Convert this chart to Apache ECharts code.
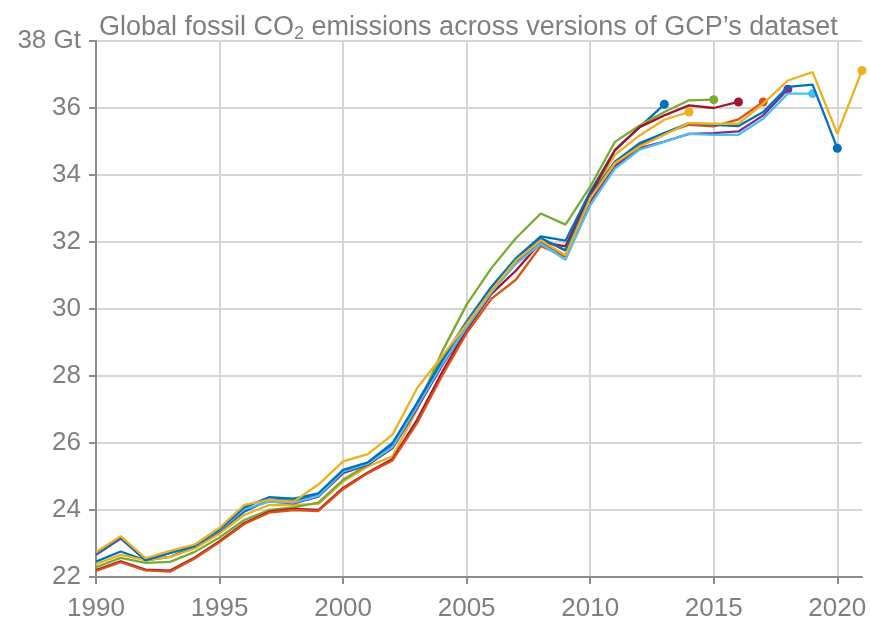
<!DOCTYPE html>
<html>
<head>
<meta charset="utf-8">
<script src="https://cdn.jsdelivr.net/npm/echarts@6/dist/echarts.min.js"></script>
<style>
html,body{margin:0;padding:0;background:#fff;}
#chart{width:870px;height:624px;}
</style>
</head>
<body>
<div id="chart"></div>
<script>
// ---- data (GtCO2) ----
var startYear = 1990;
var xTicks = [1990, 1995, 2000, 2005, 2010, 2015, 2020];
var yTicks = [22, 24, 26, 28, 30, 32, 34, 36, 38];
var versionNames = ['GCP 2014','GCP 2015','GCP 2016','GCP 2017','GCP 2018','GCP 2019','GCP 2020','GCP 2021','GCP 2022'];

var gcp2014 = [22.46,22.76,22.50,22.60,22.90,23.35,23.95,24.30,24.28,24.45,25.15,25.40,25.95,27.20,28.50,29.63,30.66,31.52,32.17,32.04,33.50,34.74,35.43,36.11];
var gcp2015 = [22.38,22.66,22.50,22.60,22.85,23.30,23.85,24.15,24.15,24.18,24.85,25.30,25.60,27.00,28.50,29.60,30.60,31.45,32.09,31.75,33.35,34.60,35.18,35.65,35.88];
var gcp2016 = [22.29,22.57,22.42,22.45,22.75,23.18,23.70,24.00,24.08,24.22,24.90,25.35,25.85,27.05,28.72,30.13,31.22,32.12,32.85,32.52,33.65,34.99,35.48,35.88,36.23,36.25];
var gcp2017 = [22.21,22.47,22.22,22.19,22.58,23.07,23.61,23.95,24.03,24.00,24.66,25.12,25.52,26.70,28.10,29.38,30.45,31.15,32.00,31.87,33.40,34.74,35.43,35.78,36.08,36.00,36.18];
var gcp2018 = [22.18,22.44,22.20,22.16,22.55,23.04,23.58,23.92,24.00,23.97,24.62,25.10,25.48,26.60,28.00,29.28,30.30,30.88,31.88,31.55,33.10,34.30,34.90,35.25,35.50,35.45,35.66,36.18];
var gcp2019 = [22.66,23.15,22.50,22.72,22.92,23.38,24.00,24.26,24.20,24.40,25.10,25.35,25.85,27.05,28.30,29.45,30.55,31.40,32.00,31.60,33.20,34.25,34.80,35.00,35.23,35.25,35.30,35.78,36.56];
var gcp2020 = [22.70,23.20,22.52,22.72,22.92,23.40,24.02,24.25,24.22,24.42,25.15,25.38,25.88,27.10,28.35,29.45,30.50,31.35,31.95,31.47,33.10,34.19,34.76,34.99,35.23,35.20,35.20,35.68,36.43,36.43];
var gcp2021 = [22.70,23.18,22.50,22.72,22.93,23.42,24.08,24.38,24.34,24.50,25.20,25.42,26.00,27.20,28.45,29.60,30.65,31.50,32.12,31.75,33.35,34.40,34.95,35.25,35.55,35.50,35.46,35.88,36.63,36.70,34.80];
var gcp2022 = [22.74,23.22,22.56,22.78,22.97,23.47,24.15,24.30,24.25,24.76,25.45,25.67,26.25,27.64,28.58,29.55,30.55,31.45,32.05,31.60,33.30,34.35,34.85,35.20,35.55,35.53,35.53,36.13,36.82,37.07,35.23,37.12];

var allSeries = [gcp2014,gcp2015,gcp2016,gcp2017,gcp2018,gcp2019,gcp2020,gcp2021,gcp2022];
var colors = ['#0072BD','#EDB120','#77AC30','#A2142F','#D95319','#7E2F8E','#4DBEEE','#0072BD','#EDB120'];

var chart = echarts.init(document.getElementById('chart'), null, {renderer:'canvas'});
var series = allSeries.map(function(vals, i){
  var last = vals.length - 1;
  return {
    name: versionNames[i],
    type: 'line',
    data: vals.map(function(v, k){ return [startYear + k, v]; }),
    symbol: 'circle',
    showSymbol: true,
    symbolSize: function(val, params){ return params.dataIndex === last ? 9 : 0; },
    lineStyle: {color: colors[i], width: 2.3},
    itemStyle: {color: colors[i]},
    clip: false,
    silent: true,
    z: 2 + i
  };
});

var labelColor = '#7f7f7f';
var fontFam = '"Liberation Sans", Arial, Helvetica, sans-serif';

chart.setOption({
  animation: false,
  backgroundColor: '#ffffff',
  title: {
    text: 'Global fossil CO{sub|2} emissions across versions of GCP’s dataset',
    left: 94,
    top: 8,
    textStyle: {
      color: labelColor,
      fontSize: 27,
      fontWeight: 'normal',
      fontFamily: fontFam,
      lineHeight: 30,
      rich: {
        sub: {fontSize: 18, color: labelColor, fontFamily: fontFam, verticalAlign: 'bottom', lineHeight: 14}
      }
    }
  },
  grid: {left: 96, right: 8, top: 41, bottom: 47, containLabel: false},
  xAxis: {
    type: 'value',
    min: 1990,
    max: 2021,
    interval: 5,
    axisLine: {show: true, lineStyle: {color: '#8c8c8c', width: 2}},
    axisTick: {show: true, length: 7, lineStyle: {color: '#8c8c8c', width: 2}},
    axisLabel: {
      color: labelColor, fontSize: 26, fontFamily: fontFam, margin: 19,
      showMaxLabel: false,
      formatter: function(v){ return xTicks.indexOf(v) >= 0 ? String(v) : ''; }
    },
    splitLine: {show: true, showMaxLine: false, lineStyle: {color: '#d6d6d6', width: 2}}
  },
  yAxis: {
    type: 'value',
    min: 22,
    max: 38,
    interval: 2,
    axisLine: {show: true, lineStyle: {color: '#8c8c8c', width: 2}},
    axisTick: {show: true, length: 7, lineStyle: {color: '#8c8c8c', width: 2}},
    axisLabel: {
      color: labelColor, fontSize: 26, fontFamily: fontFam, margin: 15,
      formatter: function(v){ return v === yTicks[yTicks.length-1] ? v + ' Gt' : String(v); }
    },
    splitLine: {show: true, showMinLine: false, lineStyle: {color: '#d6d6d6', width: 2}}
  },
  series: series
});
</script>
</body>
</html>
